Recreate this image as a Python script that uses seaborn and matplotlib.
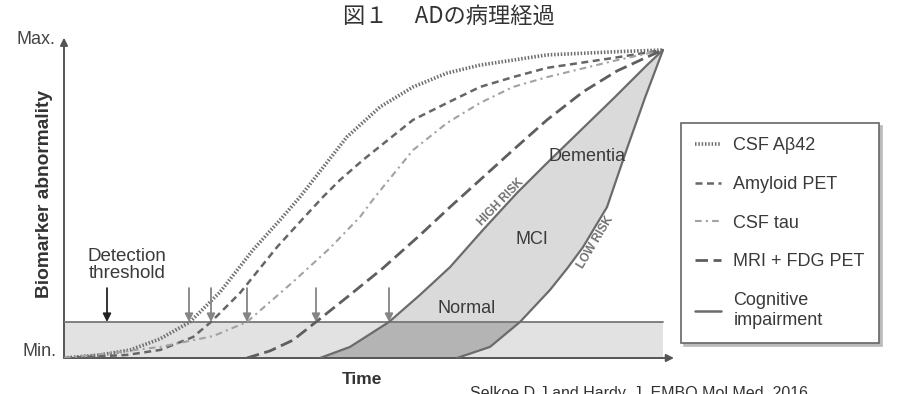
import numpy as np
import matplotlib
matplotlib.use("Agg")
import matplotlib.pyplot as plt
import matplotlib.patches as mpatches
from matplotlib.lines import Line2D
import seaborn as sns

# time (0..600) / biomarker abnormality (0 = Min, 100 = Max)
abeta_t = [0, 36, 66, 96, 126, 156, 189, 216, 236, 283, 316, 349, 383, 416, 483, 549, 599]
abeta_y = [0, 1.0, 2.6, 6.2, 11.7, 21.4, 35.1, 44.8, 52.3, 71.8, 81.5, 88.0, 92.5, 95.1, 98.4, 99.4, 100]

amyloid_t = [0, 63, 96, 129, 147, 176, 213, 236, 259, 276, 299, 349, 383, 416, 449, 483, 516, 549, 599]
amyloid_y = [0, 1.0, 2.6, 6.8, 11.7, 21.1, 36.0, 44.2, 52.3, 57.8, 64.3, 77.3, 82.8, 88.0, 91.2, 94.2, 95.8, 97.4, 100]

tau_t = [0, 46, 96, 149, 183, 229, 266, 296, 311, 349, 383, 416, 449, 483, 516, 549, 599]
tau_y = [0, 1.6, 3.6, 7.1, 11.7, 24.7, 35.7, 45.8, 52.3, 67.5, 76.3, 82.8, 88.0, 91.2, 93.8, 96.4, 100]

mri_t = [183, 206, 229, 252, 286, 319, 356, 386, 416, 449, 483, 519, 553, 583, 599]
mri_y = [0, 2.3, 5.8, 11.7, 20.5, 29.2, 39.9, 49.0, 57.8, 67.5, 77.3, 86.4, 93.2, 97.7, 100]

high_t = [256, 286, 325, 356, 386, 419, 453, 483, 516, 549, 583, 599]
high_y = [0, 3.6, 11.7, 20.5, 29.5, 41.6, 53.6, 63.3, 73.7, 84.1, 95.1, 100]

low_t = [393, 426, 456, 486, 503, 519, 543, 563, 581, 599]
low_y = [0, 3.6, 11.7, 22.1, 29.0, 36.0, 49.0, 68.0, 84.5, 100]

threshold = 11.7
time_end = 599
arrow_t = [125, 147, 183, 252, 325]
detect_arrow_t = 43

legend_labels = ["CSF A\u03b242", "Amyloid PET", "CSF tau", "MRI + FDG PET", "Cognitive\nimpairment"]

sns.set_style("white")
plt.rcParams["font.family"] = ["Liberation Sans", "DejaVu Sans"]

fig = plt.figure(figsize=(8.99, 3.94), dpi=100)
ax = fig.add_axes([64 / 899, 36 / 394, 612 / 899, 323.4 / 394])
ax.set_xlim(0, 612)
ax.set_ylim(0, 105)
ax.axis("off")

# detection band
band = mpatches.Rectangle((0, 0), time_end, threshold, facecolor="#e2e2e2", edgecolor="none", zorder=1)
ax.add_patch(band)

poly_t = np.concatenate([high_t, low_t[::-1]])
poly_y = np.concatenate([high_y, low_y[::-1]])
ax.fill(poly_t, poly_y, color="#dadada", lw=0, zorder=2)
dark = ax.fill(poly_t, poly_y, color="#b4b4b4", lw=0, zorder=3)[0]
dark.set_clip_path(band)

ax.plot([0, time_end], [threshold, threshold], color="#777777", lw=1.3, zorder=4)

styles = [
    (abeta_t, abeta_y, "#6e6e6e", 2.6, (0, (0.42, 0.5))),
    (amyloid_t, amyloid_y, "#666666", 1.8, (0, (2.8, 1.8))),
    (tau_t, tau_y, "#a2a2a2", 1.5, (0, (3.2, 2, 1, 2))),
    (mri_t, mri_y, "#5e5e5e", 2.0, (0, (4.5, 2))),
]
handles = []
for t, y, c, lw, ls in styles:
    sns.lineplot(x=t, y=y, ax=ax, color=c, lw=lw, linestyle=ls, sort=False, estimator=None, zorder=5)
    handles.append(Line2D([], [], color=c, lw=lw, linestyle=ls))
for t, y in [(high_t, high_y), (low_t, low_y)]:
    sns.lineplot(x=t, y=y, ax=ax, color="#6b6b6b", lw=1.6, sort=False, estimator=None, zorder=5)
handles.append(Line2D([], [], color="#6b6b6b", lw=1.8))

# axes with arrow heads
ax.annotate("", xy=(0, 104), xytext=(0, 0),
            arrowprops=dict(arrowstyle="-|>", color="#555555", lw=1.4, mutation_scale=11, shrinkA=0, shrinkB=0))
ax.annotate("", xy=(610, 0), xytext=(0, 0),
            arrowprops=dict(arrowstyle="-|>", color="#555555", lw=1.4, mutation_scale=11, shrinkA=0, shrinkB=0))

for t in arrow_t:
    ax.annotate("", xy=(t, threshold), xytext=(t, 22.7),
                arrowprops=dict(arrowstyle="-|>", color="#858585", lw=1.3, mutation_scale=12, shrinkA=0, shrinkB=0),
                zorder=6)
ax.annotate("", xy=(detect_arrow_t, threshold), xytext=(detect_arrow_t, 22.7),
            arrowprops=dict(arrowstyle="-|>", color="#222222", lw=1.3, mutation_scale=12, shrinkA=0, shrinkB=0),
            zorder=6)

txt = "#3a3a3a"
ax.text(63, 30.2, "Detection\nthreshold", ha="center", va="center", fontsize=13.5, color=txt, linespacing=1.0)
ax.text(523, 65.3, "Dementia", ha="center", va="center", fontsize=13, color=txt, zorder=7)
ax.text(468, 38.6, "MCI", ha="center", va="center", fontsize=13, color=txt)
ax.text(403, 16.1, "Normal", ha="center", va="center", fontsize=13, color=txt)
ax.text(437, 50.6, "HIGH RISK", ha="center", va="center", fontsize=8.5, color="#707070", fontweight="bold",
        rotation=46, rotation_mode="anchor")
ax.text(532, 37.7, "LOW RISK", ha="center", va="center", fontsize=8.5, color="#707070", fontweight="bold",
        rotation=59, rotation_mode="anchor")

fig.text(36 / 899, 1 - 39 / 394, "Max.", ha="center", va="center", fontsize=13, color="#444444")
fig.text(40 / 899, 1 - 352 / 394, "Min.", ha="center", va="center", fontsize=13, color="#444444")
fig.text(45 / 899, 1 - 194 / 394, "Biomarker abnormality", ha="center", va="center", rotation=90,
         fontsize=13.8, fontweight="bold", color="#333333")
fig.text(362 / 899, 1 - 380 / 394, "Time", ha="center", va="center", fontsize=12.5, fontweight="bold",
         color="#333333")
fig.text(470 / 899, 1 - 386 / 394, "Selkoe D.J and Hardy, J. EMBO Mol Med. 2016", ha="left", va="top",
         fontsize=11.5, color="#333333")
fig.text(449 / 899, 1 - 16 / 394, "図１　 ADの病理経過", ha="center", va="center", fontsize=16,
         color="#333333", family=["Noto Sans CJK JP", "DejaVu Sans"])

leg = fig.legend(handles, legend_labels, loc="upper left", bbox_to_anchor=(681 / 899, 1 - 123 / 394),
                 fontsize=13, handlelength=1.4, handletextpad=0.7, labelspacing=1.2, borderpad=0.8,
                 borderaxespad=0, fancybox=False, shadow={"color": "#bbbbbb", "alpha": 1},
                 edgecolor="#666666", framealpha=1)
leg.get_frame().set_linewidth(1.2)
for t in leg.get_texts():
    t.set_color(txt)

fig.savefig("out.png", dpi=100)
